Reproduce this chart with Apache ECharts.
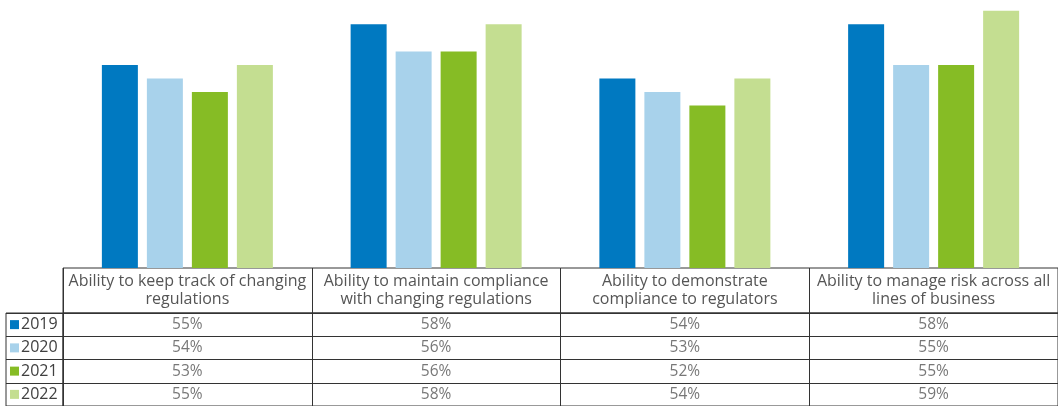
<!DOCTYPE html>
<html><head><meta charset="utf-8">
<script src="https://cdn.jsdelivr.net/npm/echarts@6/dist/echarts.min.js"></script>
<style>html,body{margin:0;padding:0;background:#fff}#c{width:1058px;height:406px}</style>
</head><body><div id="c"></div>
<script>
const categories = [
  'Ability to keep track of changing\nregulations',
  'Ability to maintain compliance\nwith changing regulations',
  'Ability to demonstrate\ncompliance to regulators',
  'Ability to manage risk across all\nlines of business'
];
const years = ['2019', '2020', '2021', '2022'];
const v2019 = [55, 58, 54, 58];
const v2020 = [54, 56, 53, 55];
const v2021 = [53, 56, 52, 55];
const v2022 = [55, 58, 54, 59];
const seriesValues = [v2019, v2020, v2021, v2022];
const colors = ['#0079c1', '#a8d2eb', '#86bc25', '#c4de91'];

const FONT = '"Open Sans", "Noto Sans", sans-serif';
const LINE = '#333333';

const chart = echarts.init(document.getElementById('c'), null, {renderer: 'canvas'});

const rich = {};
years.forEach((y, i) => {
  rich['s' + i] = {backgroundColor: colors[i], width: 9, height: 9};
});
rich.t = {color: '#404040', fontSize: 16, fontFamily: FONT, padding: [0, 0, 0, 2]};

const series = [];
seriesValues.forEach((vals, k) => {
  series.push({
    name: years[k], type: 'bar', xAxisIndex: 0, yAxisIndex: 0,
    data: vals, barWidth: 36, barGap: '25%',
    itemStyle: {color: colors[k]}, silent: true
  });
});
seriesValues.forEach((vals, k) => {
  series.push({
    name: years[k] + ' table', type: 'scatter', xAxisIndex: 2, yAxisIndex: 2,
    symbolSize: 0,
    data: vals.map((v, i) => [categories[i], years[k], v]),
    label: {show: true, position: 'inside', formatter: p => p.value[2] + '%',
      color: '#555', fontSize: 15.5, fontFamily: FONT},
    silent: true
  });
});

chart.setOption({
  animation: false,
  backgroundColor: '#fff',
  grid: [
    {left: 63, right: 0, top: 0, height: 268},
    {left: 63, right: 0, top: 268, height: 45, show: true, borderColor: LINE, borderWidth: 1},
    {left: 63, right: 0, top: 313, height: 97, show: true, borderColor: LINE, borderWidth: 1},
    {left: 6, width: 57, top: 313, height: 97, show: true, borderColor: LINE, borderWidth: 1}
  ],
  xAxis: [
    {gridIndex: 0, type: 'category', data: categories,
      axisLine: {show: false}, axisTick: {show: false},
      axisLabel: {interval: 0, margin: 4, color: '#555', fontSize: 16, fontFamily: FONT,
        lineHeight: 18, align: 'center'}},
    {gridIndex: 1, type: 'category', data: categories,
      axisLine: {show: false}, axisTick: {show: false}, axisLabel: {show: false},
      splitLine: {show: true, lineStyle: {color: LINE, width: 1}}},
    {gridIndex: 2, type: 'category', data: categories,
      axisLine: {show: false}, axisTick: {show: false}, axisLabel: {show: false},
      splitLine: {show: true, lineStyle: {color: LINE, width: 1}}},
    {gridIndex: 3, type: 'category', data: [''], show: false}
  ],
  yAxis: [
    {gridIndex: 0, type: 'value', min: 40, max: 59.8, show: false},
    {gridIndex: 1, type: 'value', show: false},
    {gridIndex: 2, type: 'category', data: years, inverse: true,
      axisLine: {show: false}, axisTick: {show: false}, axisLabel: {show: false},
      splitLine: {show: true, lineStyle: {color: LINE, width: 1}}},
    {gridIndex: 3, type: 'category', data: years, inverse: true,
      axisLine: {show: false}, axisTick: {show: false},
      axisLabel: {inside: true, margin: 4,
        formatter: (val, idx) => '{s' + idx + '|}{t|' + val + '}', rich: rich},
      splitLine: {show: true, lineStyle: {color: LINE, width: 1}}}
  ],
  series: series
});
</script></body></html>
